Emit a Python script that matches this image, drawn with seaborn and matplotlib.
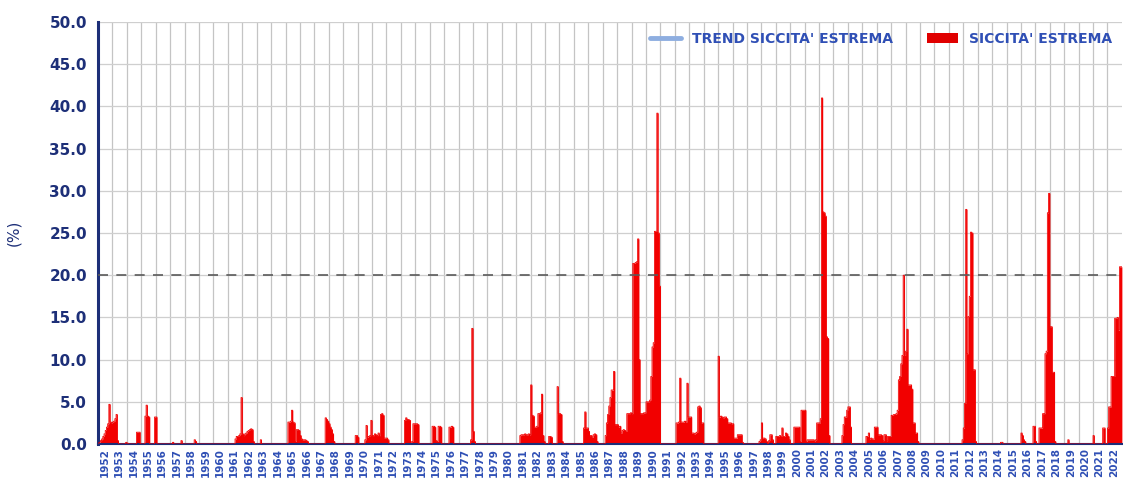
import numpy as np
import pandas as pd
import matplotlib
matplotlib.use("Agg")
import matplotlib.pyplot as plt
from matplotlib.lines import Line2D
from matplotlib.patches import Patch
import seaborn as sns

sns.set_theme(style="white")
plt.rcParams["font.family"] = ["DejaVu Sans"]

# ── monthly share of territory in extreme drought (%) ────
first_year = 1952

dry_1950s = [
    [0.1, 0.2, 0.4, 0.6, 0.9, 1.2, 1.6, 2.0, 2.4, 4.7, 2.6, 2.5],   # 1952
    [2.6, 2.7, 3.0, 3.5, 0.4, 0, 0, 0, 0, 0, 0, 0.2],
    [0.1, 0, 0, 0, 0, 0, 0, 0, 1.4, 1.4, 1.4, 0],
    [0, 0, 0, 3.3, 4.6, 3.3, 3.2, 0, 0, 0, 0, 3.2],
    [3.2, 0, 0, 0, 0, 0, 0, 0, 0, 0, 0, 0],
    [0, 0, 0.2, 0, 0, 0, 0, 0, 0, 0.4, 0, 0],
    [0, 0, 0, 0, 0, 0, 0, 0, 0.5, 0.3, 0, 0],
    [0, 0, 0, 0, 0, 0, 0, 0, 0, 0, 0, 0],
]
dry_1960s = [
    [0, 0, 0, 0, 0, 0, 0, 0, 0, 0, 0, 0],
    [0, 0, 0, 0, 0, 0, 0.6, 0.9, 0.9, 1.0, 1.2, 5.5],
    [1.2, 1.0, 1.2, 1.3, 1.5, 1.6, 1.7, 1.8, 1.7, 0.3, 0, 0],
    [0, 0, 0, 0.5, 0, 0, 0, 0, 0, 0, 0, 0],
    [0, 0, 0, 0, 0, 0, 0, 0, 0, 0, 0, 0],
    [0, 0, 2.6, 2.6, 2.7, 4.0, 2.6, 2.5, 0.3, 1.7, 1.7, 1.6],
    [1.0, 0.6, 0.5, 0.5, 0.5, 0.4, 0.3, 0, 0, 0, 0, 0],
    [0, 0, 0, 0, 0, 0, 0, 0, 0, 3.1, 2.9, 2.7],
    [2.4, 2.0, 1.7, 1.2, 0.3, 0, 0, 0, 0, 0, 0, 0],
    [0, 0, 0, 0, 0, 0, 0, 0, 0, 0, 1.0, 1.0],
]
dry_1970s = [
    [0.8, 0, 0, 0, 0, 0, 0.5, 2.2, 0.8, 0.9, 1.0, 2.8],
    [1.0, 1.0, 1.2, 1.1, 1.0, 1.3, 1.0, 3.5, 3.6, 3.4, 0.7, 0.7],
    [0.7, 0.5, 0, 0, 0, 0, 0, 0, 0, 0, 0, 0],
    [0, 0, 0, 2.8, 3.1, 2.9, 2.9, 2.8, 0.2, 0.3, 2.4, 2.4],
    [2.4, 2.4, 2.3, 0, 0, 0, 0, 0, 0, 0, 0, 0],
    [0, 0, 2.1, 2.1, 2.0, 0.4, 0.3, 2.1, 2.1, 2.0, 0, 0],
    [0, 0, 0, 0, 2.0, 2.0, 2.1, 2.0, 0, 0, 0, 0],
    [0, 0, 0, 0, 0, 0, 0, 0, 0, 0, 0.5, 13.7],
    [1.5, 0.3, 0, 0, 0, 0, 0, 0, 0, 0, 0, 0],
    [0, 0, 0, 0, 0, 0, 0, 0, 0, 0, 0, 0],
]
dry_1980s = [
    [0, 0, 0, 0, 0, 0, 0, 0, 0, 0, 0, 0],
    [0, 0, 0, 1.0, 1.1, 1.1, 1.1, 1.2, 1.1, 1.1, 1.2, 1.1],
    [7.0, 3.4, 3.3, 2.0, 2.0, 2.1, 3.6, 3.6, 3.7, 5.9, 1.0, 0.3],
    [0, 0, 0, 0.9, 0.9, 0.8, 0, 0, 0, 0, 6.8, 3.6],
    [3.6, 3.5, 0.3, 0, 0, 0, 0, 0, 0, 0, 0, 0],
    [0, 0, 0, 0, 0, 0, 0, 0, 1.9, 3.8, 1.9, 1.9],
    [1.5, 1.0, 1.0, 0.8, 1.1, 1.2, 1.1, 0.3, 0, 0, 0, 0],
    [0, 0, 1.0, 2.5, 3.5, 4.5, 5.5, 6.4, 6.4, 8.6, 2.3, 2.3],
    [2.3, 2.0, 2.1, 1.3, 1.6, 1.7, 1.6, 1.5, 3.6, 3.6, 3.6, 3.7],
    [3.6, 21.4, 21.4, 21.5, 21.6, 24.3, 10.0, 3.6, 3.6, 3.6, 3.7, 3.7],
]
dry_1990s = [
    [5.0, 5.0, 5.0, 5.2, 8.0, 11.5, 12.0, 25.2, 25.2, 39.2, 25.0, 18.7],
    [0, 0, 0, 0, 0, 0, 0, 0, 0, 0, 0, 0],
    [0, 2.5, 2.5, 2.6, 7.8, 2.6, 2.6, 2.6, 2.7, 2.6, 7.2, 3.2],
    [3.2, 3.2, 1.3, 1.3, 1.2, 1.3, 1.4, 4.4, 4.5, 4.3, 2.5, 2.5],
    [0, 0, 0, 0, 0, 0, 0, 0, 0, 0, 0, 0],
    [10.4, 3.2, 3.3, 3.2, 3.1, 3.2, 3.2, 3.0, 2.5, 2.5, 2.5, 2.4],
    [2.4, 0.7, 0.7, 0.7, 1.1, 1.1, 1.1, 1.1, 0.2, 0, 0, 0],
    [0, 0, 0, 0, 0, 0, 0, 0, 0, 0, 0.3, 0.5],
    [2.5, 0.7, 0.7, 0.6, 0.3, 0, 0.4, 1.1, 1.1, 0.5, 0, 0],
    [0.9, 0.9, 0.9, 1.0, 0.9, 1.9, 0.9, 0.9, 1.3, 1.2, 0.9, 0.5],
]
dry_2000s = [
    [0, 0, 0, 2.0, 2.0, 2.0, 2.0, 2.0, 0.3, 4.0, 4.0, 4.0],
    [4.0, 0.3, 0.5, 0.5, 0.5, 0.5, 0.5, 0.5, 0.3, 0.5, 2.5, 2.5],
    [2.5, 3.0, 41.0, 27.5, 27.4, 27.0, 12.7, 12.5, 1.0, 0, 0, 0],
    [0, 0, 0, 0, 0, 0, 0, 1.0, 2.3, 3.2, 3.2, 4.0],
    [4.4, 4.4, 2.0, 0, 0, 0, 0, 0, 0, 0, 0, 0],
    [0, 0, 0, 0.9, 0.9, 1.3, 0.6, 0.7, 0.6, 0.6, 2.0, 2.0],
    [2.0, 1.1, 1.1, 1.1, 1.0, 0.4, 1.1, 1.1, 0.4, 0.9, 0.9, 0.9],
    [3.4, 3.4, 3.5, 3.5, 3.6, 4.0, 7.6, 8.0, 9.5, 10.5, 20.0, 10.5],
    [11.0, 13.6, 7.0, 7.0, 7.0, 6.5, 2.5, 2.5, 1.3, 1.3, 0.3, 0],
    [0, 0, 0, 0, 0, 0, 0, 0, 0, 0, 0, 0],
]
dry_2010s = [
    [0, 0, 0, 0, 0, 0, 0, 0, 0, 0, 0, 0],
    [0, 0, 0, 0, 0, 0, 0, 0, 0, 0, 0, 0.5],
    [1.9, 4.8, 27.8, 10.7, 15.1, 17.5, 25.1, 25.0, 8.8, 8.8, 0.3, 0],
    [0, 0, 0, 0, 0, 0, 0, 0, 0, 0, 0, 0],
    [0, 0, 0, 0, 0, 0, 0, 0.2, 0.2, 0, 0, 0],
    [0, 0, 0, 0, 0, 0, 0, 0, 0, 0, 0, 0],
    [1.3, 1.0, 0.5, 0.3, 0, 0, 0, 0, 0, 0, 2.1, 2.1],
    [0.3, 0, 0, 1.9, 1.9, 1.9, 3.6, 3.6, 10.7, 11.0, 27.4, 29.7],
    [13.9, 13.9, 8.5, 8.5, 0.3, 0, 0, 0, 0, 0, 0, 0],
    [0, 0, 0, 0.5, 0, 0, 0, 0, 0, 0, 0, 0],
]
dry_2020s = [
    [0, 0, 0, 0, 0, 0, 0, 0, 0, 0, 0, 0],
    [1.0, 0, 0, 0, 0, 0, 0, 0, 1.9, 1.9, 0, 0],
    [1.9, 4.4, 4.4, 8.0, 8.0, 8.0, 14.9, 14.9, 15.0, 13.5, 21.0, 21.0],   # 2022
]

threshold = 20.0
y_ticks = [0, 5, 10, 15, 20, 25, 30, 35, 40, 45, 50]
legend_labels = ["TREND SICCITA' ESTREMA", "SICCITA' ESTREMA"]

# ── assemble monthly series ─────────────────────────────────────────────────
rows = dry_1950s + dry_1960s + dry_1970s + dry_1980s + dry_1990s + dry_2000s + dry_2010s + dry_2020s
years = np.arange(first_year, first_year + len(rows))
df = pd.DataFrame(
    [(y + m / 12, v) for y, row in zip(years, rows) for m, v in enumerate(row)],
    columns=["t", "pct"],
)
# closing point so the last month is drawn as a full step
df_step = pd.concat([df, pd.DataFrame({"t": [years[-1] + 1], "pct": [df["pct"].iloc[-1]]})],
                    ignore_index=True)

NAVY = "#1d2f78"
BLUE = "#2f4fb5"
RED = "#f20000"

fig = plt.figure(figsize=(11.23, 4.86), dpi=100)
ax = fig.add_axes([0.0873, 0.0864, 0.9117, 0.8683])

# grid
ax.set_xticks(years)
ax.set_xticklabels([])
ax.set_xticks(years + 0.45, minor=True)
ax.set_xticklabels([str(y) for y in years], minor=True, rotation=90,
                   fontsize=7.5, color=BLUE, fontweight="bold")
ax.tick_params(axis="x", which="both", length=0, pad=3)
ax.grid(axis="x", which="major", color="#c4c4c4", linewidth=0.9)
ax.grid(axis="y", color="#cfcfcf", linewidth=0.9)
ax.set_axisbelow(True)

# red drought area
ax.fill_between(df_step["t"], df_step["pct"], step="post", color=RED, linewidth=0, zorder=2)
sns.lineplot(data=df_step, x="t", y="pct", drawstyle="steps-post", estimator=None,
             color=RED, linewidth=0.6, ax=ax, zorder=3)

# threshold line
ax.axhline(threshold, color="#5a5a5a", linewidth=1.2, linestyle=(0, (6, 5)), zorder=4)

ax.set_xlim(years[0], years[-1] + 1)
ax.set_ylim(0, 50)
ax.set_yticks(y_ticks)
ax.set_yticklabels([f"{v:.1f}" for v in y_ticks], fontsize=11, color=NAVY, fontweight="bold")
ax.tick_params(axis="y", length=0, pad=8)
ax.set_xlabel("")
ax.set_ylabel("(%)", fontsize=11, color=NAVY, labelpad=20)

for side in ["top", "right"]:
    ax.spines[side].set_visible(False)
ax.spines["left"].set_color(NAVY)
ax.spines["left"].set_linewidth(2.2)
ax.spines["bottom"].set_color(NAVY)
ax.spines["bottom"].set_linewidth(1.5)

handles = [Line2D([0], [0], color="#8eaee0", linewidth=3.5),
           Patch(facecolor="#e00000", edgecolor="none")]
leg = ax.legend(handles, legend_labels, loc="upper right", bbox_to_anchor=(1.0, 1.0),
                ncol=2, frameon=False, columnspacing=2.5, handlelength=2.2,
                handletextpad=0.8, borderaxespad=0.3,
                prop={"weight": "bold", "size": 10})
for txt in leg.get_texts():
    txt.set_color(BLUE)

fig.savefig("out.png", dpi=100)
